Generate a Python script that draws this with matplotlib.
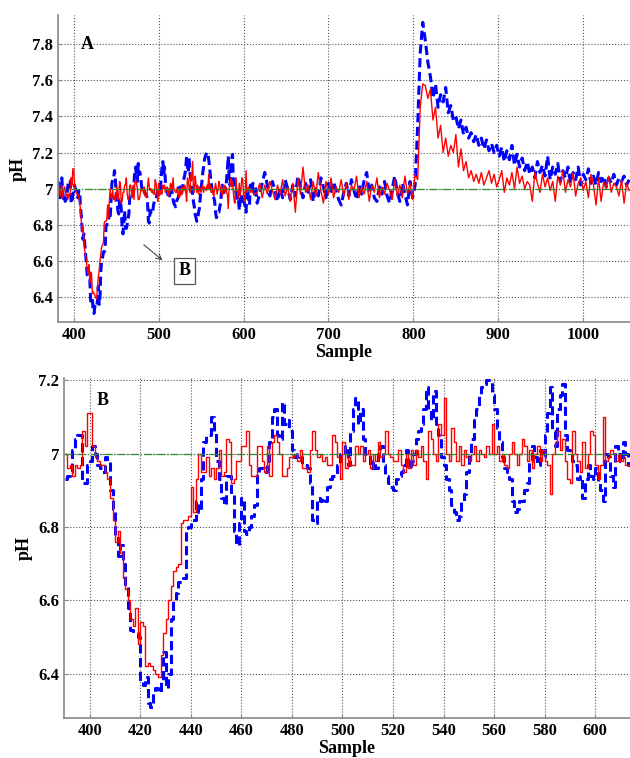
import numpy as np
import matplotlib
matplotlib.use("Agg")
import matplotlib.pyplot as plt

plt.rcParams['font.family'] = ['Liberation Serif', 'DejaVu Serif']
plt.rcParams['font.weight'] = 'bold'

# ---- data ----
# samples 381-389 (only visible in the top panel)
pre_x = np.arange(381, 390)
pre_red = [7.00, 6.97, 7.03, 6.96, 6.99, 7.02, 6.95, 6.98, 7.01]
pre_blue = [7.05, 6.98, 7.03, 6.95, 6.97, 7.06, 6.99, 6.94, 6.96]

# samples 390-614, one value per sample (zoomed panel B)
zoom_x = np.arange(390, 615)
zoom_red = [
    7.00, 6.96, 6.97, 6.94, 6.97, 6.96, 6.97, 7.06, 7.02, 7.11,
    7.11, 7.02, 6.99, 6.98, 6.97, 6.97, 6.95, 6.93, 6.88, 6.82,
    6.76, 6.79, 6.73, 6.66, 6.63, 6.60, 6.55, 6.53, 6.58, 6.48,
    6.54, 6.53, 6.42, 6.43, 6.42, 6.41, 6.40, 6.39, 6.45, 6.51,
    6.55, 6.60, 6.64, 6.68, 6.69, 6.70, 6.81, 6.82, 6.82, 6.83,
    6.91, 6.84, 6.93, 7.00, 6.95, 6.95, 6.99, 6.94, 6.96, 6.93,
    6.96, 7.01, 6.94, 6.95, 7.04, 7.03, 6.92, 6.93, 6.98, 6.98,
    7.02, 7.02, 7.06, 6.97, 6.94, 6.94, 7.02, 7.02, 6.98, 6.95,
    7.02, 6.94, 7.03, 7.05, 7.03, 7.00, 6.94, 6.94, 6.96, 6.99,
    6.99, 7.00, 6.98, 7.01, 6.96, 6.96, 6.95, 7.01, 7.06, 7.01,
    6.99, 7.00, 6.98, 6.99, 6.97, 6.97, 7.05, 7.03, 6.99, 6.93,
    7.03, 6.96, 6.99, 6.97, 6.97, 7.02, 7.00, 7.02, 6.98, 7.00,
    7.01, 6.96, 7.00, 6.98, 7.03, 6.99, 7.00, 7.06, 7.00, 6.99,
    6.98, 6.98, 7.01, 6.97, 6.95, 7.00, 6.96, 7.01, 6.97, 7.01,
    6.99, 7.02, 6.98, 6.93, 7.06, 7.04, 7.00, 6.98, 7.08, 7.05,
    7.15, 7.00, 6.98, 7.07, 7.03, 6.98, 7.02, 6.97, 7.01, 6.99,
    6.98, 7.00, 7.02, 6.98, 7.01, 7.00, 6.99, 7.02, 7.00, 7.08,
    7.00, 7.02, 6.98, 7.00, 6.97, 6.96, 7.00, 7.03, 7.00, 6.97,
    7.00, 7.04, 7.02, 6.98, 7.01, 6.96, 7.00, 7.02, 6.98, 7.01,
    6.98, 6.97, 6.89, 7.00, 7.03, 7.06, 7.01, 7.04, 6.98, 6.93,
    6.92, 7.06, 7.00, 6.98, 6.95, 7.03, 6.96, 7.00, 7.06, 7.05,
    6.97, 6.93, 6.97, 7.10, 6.98, 6.99, 7.01, 7.00, 6.98, 7.00,
    6.98, 6.99, 6.97, 6.97, 6.97,
]
zoom_blue = [
    6.93, 6.94, 6.95, 7.01, 7.04, 7.05, 7.05, 6.92, 6.92, 6.97,
    6.98, 7.02, 7.00, 6.97, 6.96, 6.95, 6.99, 6.98, 6.90, 6.85,
    6.77, 6.72, 6.75, 6.70, 6.64, 6.58, 6.52, 6.51, 6.51, 6.50,
    6.38, 6.37, 6.39, 6.32, 6.31, 6.35, 6.36, 6.35, 6.38, 6.46,
    6.36, 6.40, 6.55, 6.60, 6.62, 6.65, 6.65, 6.66, 6.79, 6.80,
    6.82, 6.82, 6.87, 6.84, 6.93, 7.03, 7.05, 7.05, 7.10, 7.06,
    6.98, 6.93, 6.88, 6.86, 6.94, 6.94, 6.89, 6.79, 6.75, 6.81,
    6.88, 6.79, 6.78, 6.80, 6.83, 6.86, 6.95, 6.96, 6.96, 6.95,
    6.98, 7.03, 7.10, 7.12, 7.05, 7.04, 7.14, 7.08, 7.09, 7.06,
    7.01, 6.99, 7.00, 6.99, 6.97, 6.97, 6.96, 6.92, 6.82, 6.81,
    6.88, 6.87, 6.88, 6.87, 6.91, 6.93, 6.94, 6.94, 6.97, 7.00,
    7.00, 7.02, 6.97, 7.06, 7.12, 7.15, 7.08, 7.12, 7.04, 7.00,
    7.00, 6.96, 6.98, 6.96, 7.00, 7.02, 6.97, 6.94, 6.92, 6.91,
    6.90, 6.93, 6.94, 6.95, 6.97, 7.01, 6.96, 6.98, 7.00, 7.04,
    7.06, 7.08, 7.12, 7.18, 7.12, 7.09, 7.17, 7.08, 7.05, 6.99,
    6.97, 6.93, 6.90, 6.86, 6.84, 6.82, 6.83, 6.87, 6.89, 6.95,
    7.00, 7.04, 7.09, 7.12, 7.16, 7.18, 7.19, 7.20, 7.20, 7.16,
    7.12, 7.07, 7.03, 6.99, 6.96, 6.95, 6.93, 6.87, 6.84, 6.85,
    6.87, 6.87, 6.90, 6.92, 6.98, 7.02, 6.99, 6.97, 7.01, 6.99,
    7.05, 7.11, 7.18, 7.06, 7.02, 7.12, 7.16, 7.19, 7.05, 7.01,
    7.00, 6.98, 6.97, 6.93, 6.94, 6.88, 6.93, 6.97, 6.94, 6.93,
    6.96, 6.92, 6.90, 6.87, 7.00, 6.99, 6.94, 6.91, 7.02, 7.01,
    6.98, 7.03, 7.00, 6.97, 7.01,
]

# samples 616-1054, read every 3rd sample from the top panel
late_x = np.arange(616, 1055, 3)
late_red = [
    6.98, 7.03, 6.95, 7.02, 6.97, 7.04, 6.99, 6.94, 7.02, 6.97,
    7.05, 6.96, 7.01, 6.93, 7.03, 6.87, 7.06, 6.97, 7.12, 6.98,
    7.02, 6.94, 7.04, 6.96, 7.09, 6.99, 6.92, 7.04, 6.97, 7.06,
    6.95, 7.01, 6.98, 7.05, 6.96, 7.03, 6.94, 7.02, 6.99, 7.07,
    6.95, 7.01, 6.97, 7.04, 6.93, 7.02, 6.98, 7.06, 6.95, 7.01,
    6.97, 7.03, 6.99, 6.94, 7.05, 6.96, 7.02, 6.95, 7.07, 6.97,
    7.03, 6.94, 7.08,
    7.05, 7.45, 7.58, 7.57, 7.50, 7.55, 7.38, 7.45, 7.28, 7.35,
    7.20, 7.28, 7.18, 7.24, 7.20, 7.30, 7.12, 7.22, 7.10, 7.15,
    7.06, 7.10, 7.04, 7.08, 7.03, 7.09, 7.02, 7.06, 7.10, 7.03,
    7.08, 7.01, 7.05, 7.10, 6.98, 7.06, 7.02, 7.09, 7.00, 7.12,
    7.03, 7.07, 7.00, 7.04, 7.02, 6.93, 7.09, 7.03, 6.98, 7.08,
    7.01, 7.06, 6.99, 7.04, 6.93, 7.07, 7.02, 7.10, 6.98, 7.05,
    7.01, 7.09, 6.96, 7.03, 7.06, 6.99, 7.04, 6.95, 7.08, 7.02,
    6.91, 7.06, 6.93, 7.04, 7.00, 7.07, 6.98, 7.03, 7.01, 6.96,
    7.05, 6.92, 7.03, 6.99,
]
late_blue = [
    6.92, 6.97, 7.03, 7.09, 7.02, 6.96, 7.04, 6.99, 6.93, 7.01,
    6.95, 7.05, 7.00, 6.94, 7.02, 6.96, 7.07, 7.01, 6.95, 7.03,
    6.98, 7.05, 6.93, 7.00, 6.96, 7.06, 7.01, 6.95, 7.03, 6.97,
    7.04, 6.99, 6.94, 6.91, 6.98, 7.03, 6.96, 7.05, 6.99, 6.94,
    7.02, 6.97, 7.05, 7.09, 6.98, 7.02, 6.95, 6.93, 7.01, 6.97,
    7.04, 6.96, 6.92, 7.00, 7.07, 6.98, 6.93, 7.03, 6.97, 6.91,
    7.04, 6.95, 7.02,
    7.35, 7.75, 7.92, 7.82, 7.70, 7.62, 7.50, 7.58, 7.45, 7.52,
    7.48, 7.56, 7.42, 7.46, 7.38, 7.40, 7.33, 7.38, 7.30, 7.34,
    7.28, 7.31, 7.26, 7.30, 7.24, 7.28, 7.22, 7.27, 7.21, 7.25,
    7.20, 7.24, 7.18, 7.23, 7.15, 7.21, 7.16, 7.24, 7.13, 7.19,
    7.12, 7.17, 7.10, 7.15, 7.08, 7.12, 7.06, 7.15, 7.09, 7.13,
    7.07, 7.18, 7.05, 7.12, 7.08, 7.14, 7.04, 7.10, 7.06, 7.12,
    7.03, 7.09, 7.05, 7.12, 7.02, 7.08, 7.05, 7.11, 7.03, 7.07,
    7.02, 7.09, 7.04, 7.07, 7.01, 7.06, 7.03, 7.08, 7.02, 7.06,
    7.04, 7.07, 7.02, 7.05,
]

setpoint = 7.0

full_x = np.concatenate([pre_x, zoom_x, late_x])
full_red = np.concatenate([pre_red, zoom_red, late_red])
full_blue = np.concatenate([pre_blue, zoom_blue, late_blue])

fig = plt.figure(figsize=(6.3, 7.58), dpi=100)
ax1 = fig.add_axes([0.092, 0.575, 0.908, 0.405])
ax2 = fig.add_axes([0.1016, 0.053, 0.8984, 0.448])

grid_kw = dict(color='#555555', linestyle=':', linewidth=0.8)


def draw(ax, x, red, blue, lw_blue, style):
    ax.plot(x, blue, color='#0000ff', linestyle='--', linewidth=lw_blue,
            drawstyle=style, dashes=(3, 1.5))
    ax.plot(x, red, color='#ff0000', linewidth=1.0, drawstyle=style)
    ax.axhline(setpoint, color='#2e8b2e', linestyle='-.', linewidth=0.9)
    ax.grid(True, **grid_kw)
    ax.set_axisbelow(True)
    for s in ('top', 'right'):
        ax.spines[s].set_visible(False)
    for s in ('left', 'bottom'):
        ax.spines[s].set_color('#888888')
        ax.spines[s].set_linewidth(1.2)
    ax.tick_params(direction='in', labelsize=12, length=3, color='#888888')
    ax.set_ylabel('pH', fontsize=13, fontweight='bold')
    ax.set_xlabel('Sample', fontsize=13, fontweight='bold', labelpad=1)


# top panel: whole run, at this scale steps are sub-pixel
draw(ax1, full_x, full_red, full_blue, 2.2, 'default')
ax1.set_xlim(381.5, 1055)
ax1.set_ylim(6.262, 7.96)
ax1.set_xticks(np.arange(400, 1001, 100))
ax1.set_yticks(np.arange(6.4, 7.81, 0.2))
ax1.set_yticklabels(['6.4', '6.6', '6.8', '7', '7.2', '7.4', '7.6', '7.8'])
ax1.text(416, 7.8, 'A', fontsize=13, fontweight='bold', ha='center', va='center')
ax1.annotate('', xy=(507, 6.595), xytext=(480, 6.70),
             arrowprops=dict(arrowstyle='->', color='#333333', lw=0.7))
ax1.text(531, 6.545, 'B', fontsize=13, fontweight='bold', ha='center', va='center',
         bbox=dict(boxstyle='square,pad=0.25', fc='white', ec='#555555', lw=0.9))

# bottom panel: zoom on 390-614 drawn as stairs
draw(ax2, zoom_x, zoom_red, zoom_blue, 2.2, 'steps-post')
ax2.set_xlim(389.8, 613.8)
ax2.set_ylim(6.28, 7.205)
ax2.set_xticks(np.arange(400, 601, 20))
ax2.set_yticks([6.4, 6.6, 6.8, 7.0, 7.2])
ax2.set_yticklabels(['6.4', '6.6', '6.8', '7', '7.2'])
ax2.text(405, 7.145, 'B', fontsize=13, fontweight='bold', ha='center', va='center')

fig.savefig('out.png', dpi=100)
